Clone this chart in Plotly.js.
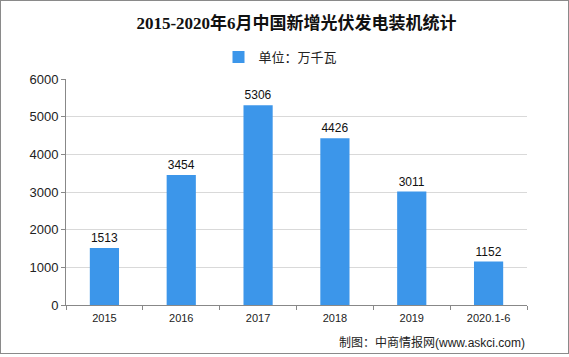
<!DOCTYPE html>
<html>
<head>
<meta charset="utf-8">
<script src="https://cdn.plot.ly/plotly-3.0.1.min.js"></script>
<style>
html,body{margin:0;padding:0;background:#fff;}
#frame{position:absolute;left:0;top:0;width:567px;height:352px;border:1px solid #8a8a8a;}
#chart{position:absolute;left:0;top:0;width:569px;height:357px;}
</style>
</head>
<body>
<div id="chart"></div>
<div id="frame"></div>
<script>
const categories = ["2015", "2016", "2017", "2018", "2019", "2020.1-6"];
const values = [1513, 3454, 5306, 4426, 3011, 1152];
const seriesName = "单位：万千瓦";
const titleText = "2015-2020年6月中国新增光伏发电装机统计";
const sourceText = "制图：中商情报网(www.askci.com)";
const yTicks = [0, 1000, 2000, 3000, 4000, 5000, 6000];

const baseFont = 'Arial, "Liberation Sans", "Noto Sans CJK SC", sans-serif';

const trace = {
  type: 'bar',
  x: categories,
  y: values,
  name: seriesName,
  marker: {color: '#3c96ea'},
  text: values.map(String),
  textposition: 'outside',
  cliponaxis: false,
  textfont: {size: 12, color: '#111', family: baseFont},
  hoverinfo: 'none'
};

const layout = {
  width: 569,
  height: 357,
  margin: {l: 66, r: 42, t: 79, b: 52},
  paper_bgcolor: '#fff',
  plot_bgcolor: '#fff',
  bargap: 0.62,
  font: {family: baseFont, color: '#222'},
  title: {
    text: titleText,
    font: {family: '"Liberation Serif", "Noto Sans CJK SC", serif', size: 17, color: '#111', weight: 'bold'},
    x: 0.5, xanchor: 'center', xref: 'paper',
    y: 1 - 23/357, yanchor: 'middle', yref: 'container'
  },
  showlegend: true,
  legend: {
    orientation: 'h',
    x: 0.5 - 16/461, xanchor: 'center',
    y: (305 - 57) / 226, yanchor: 'middle',
    font: {size: 13, color: '#222', family: baseFont},
    itemwidth: 30,
    bgcolor: 'rgba(0,0,0,0)'
  },
  xaxis: {
    type: 'category',
    showline: true, linecolor: '#888', linewidth: 1,
    ticks: 'outside', tickson: 'boundaries', ticklen: 4, tickcolor: '#888',
    tickfont: {size: 11, color: '#222'},
    ticklabelstandoff: 3,
    showgrid: false,
    fixedrange: true
  },
  yaxis: {
    range: [0, 6000],
    tickvals: yTicks,
    ticktext: yTicks.map(String),
    showline: true, linecolor: '#888', linewidth: 1,
    ticks: 'outside', ticklen: 4, tickcolor: '#888',
    tickfont: {size: 13, color: '#222'},
    showgrid: true, gridcolor: '#d9d9d9', gridwidth: 1,
    zeroline: false,
    fixedrange: true
  },
  annotations: [{
    text: sourceText,
    xref: 'paper', yref: 'paper',
    x: 1, xanchor: 'right',
    y: (305 - 342) / 226, yanchor: 'middle',
    showarrow: false,
    font: {size: 12, color: '#222', family: baseFont}
  }]
};

Plotly.newPlot('chart', [trace], layout, {displayModeBar: false, staticPlot: true});
</script>
</body>
</html>
